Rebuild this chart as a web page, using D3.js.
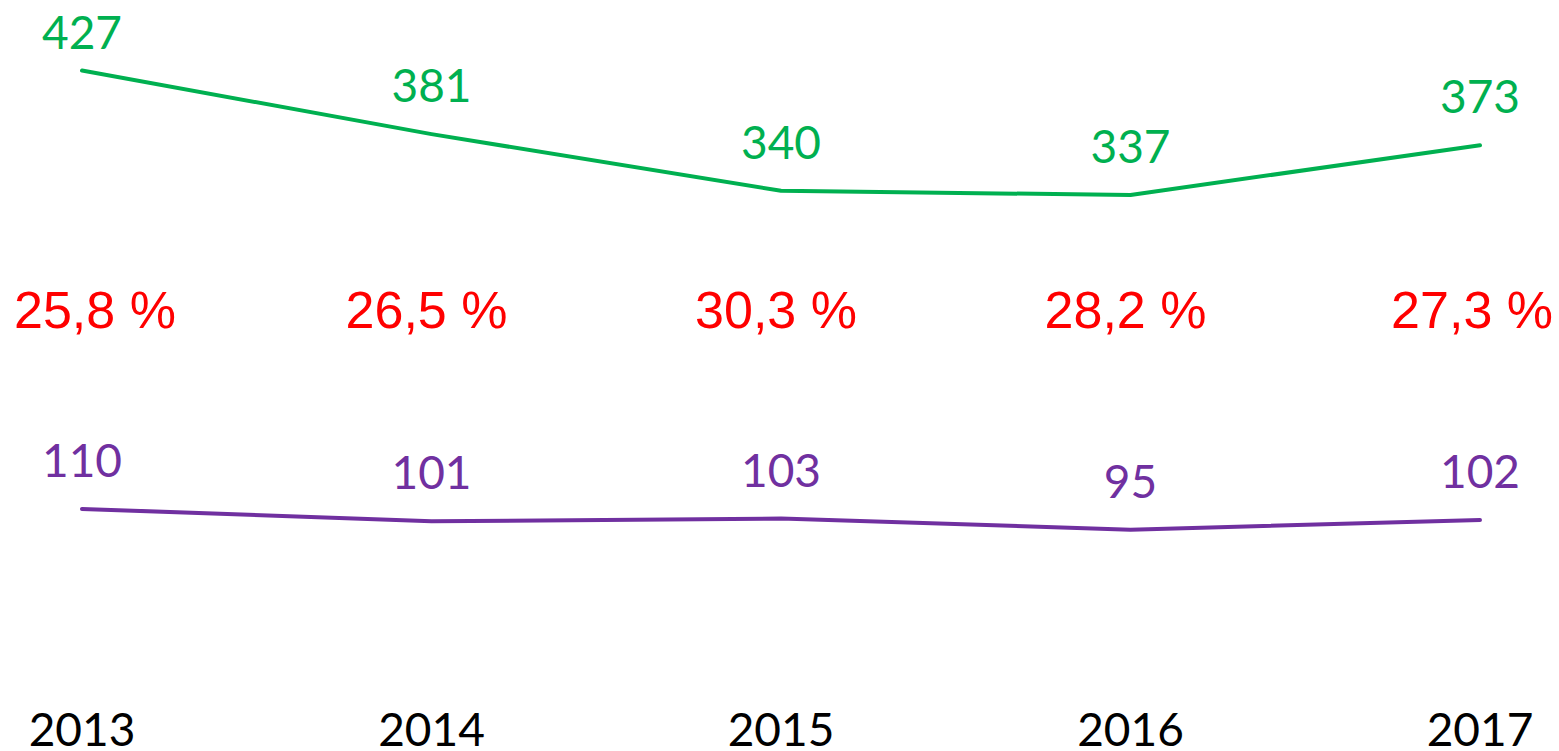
<!DOCTYPE html>
<html>
<head>
<meta charset="utf-8">
<script src="https://cdn.jsdelivr.net/npm/d3@7"></script>
<style>
  html, body { margin: 0; padding: 0; background: #fff; overflow: hidden; }
</style>
</head>
<body>
<svg id="chart"></svg>
<script>
const width = 1559;
const height = 751;

// chart data
const years = ["2013", "2014", "2015", "2016", "2017"];
const upperSeries = [427, 381, 340, 337, 373];
const lowerSeries = [110, 101, 103, 95, 102];
const shareLabels = ["25,8 %", "26,5 %", "30,3 %", "28,2 %", "27,3 %"];

const svg = d3.select("#chart")
    .attr("width", width)
    .attr("height", height);

const x = d3.scalePoint()
    .domain(years)
    .range([82, 1480]);

// same value scale for both lines
const y = d3.scaleLinear()
    .domain([0, 478])
    .range([661, 0]);

const line = d3.line()
    .x((d, i) => x(years[i]))
    .y(d => y(d));

function drawSeries(values, color) {
    svg.append("path")
        .datum(values)
        .attr("fill", "none")
        .attr("stroke", color)
        .attr("stroke-width", 4)
        .attr("stroke-linejoin", "round")
        .attr("stroke-linecap", "round")
        .attr("d", line);

    // value labels above points, kept inside the top edge
    svg.selectAll(null)
        .data(values)
        .join("text")
        .attr("x", (d, i) => x(years[i]))
        .attr("y", d => Math.max(y(d) - 32, 49))
        .attr("text-anchor", "middle")
        .attr("font-family", "Lato, 'Open Sans', sans-serif")
        .attr("font-size", "46px")
        .attr("fill", color)
        .text(d => d);
}

drawSeries(upperSeries, "#00b050");
drawSeries(lowerSeries, "#7030a0");

// red share labels in the middle row, clamped to the page edges
const shareText = svg.selectAll(".share")
    .data(shareLabels)
    .join("text")
    .attr("class", "share")
    .attr("y", 328)
    .attr("font-family", "'Liberation Sans', Arial, sans-serif")
    .attr("font-size", "52px")
    .attr("fill", "#ff0000")
    .text(d => d);

shareText.each(function (d, i) {
    const w = this.getComputedTextLength();
    let left = x(years[i]) - 5 - w / 2;
    left = Math.max(14, Math.min(left, width - 6 - w));
    d3.select(this).attr("x", left);
});

// year axis labels
svg.selectAll(".year")
    .data(years)
    .join("text")
    .attr("class", "year")
    .attr("x", d => x(d))
    .attr("y", 746)
    .attr("text-anchor", "middle")
    .attr("font-family", "Lato, 'Open Sans', sans-serif")
    .attr("font-size", "46px")
    .attr("fill", "#000")
    .text(d => d);
</script>
</body>
</html>
